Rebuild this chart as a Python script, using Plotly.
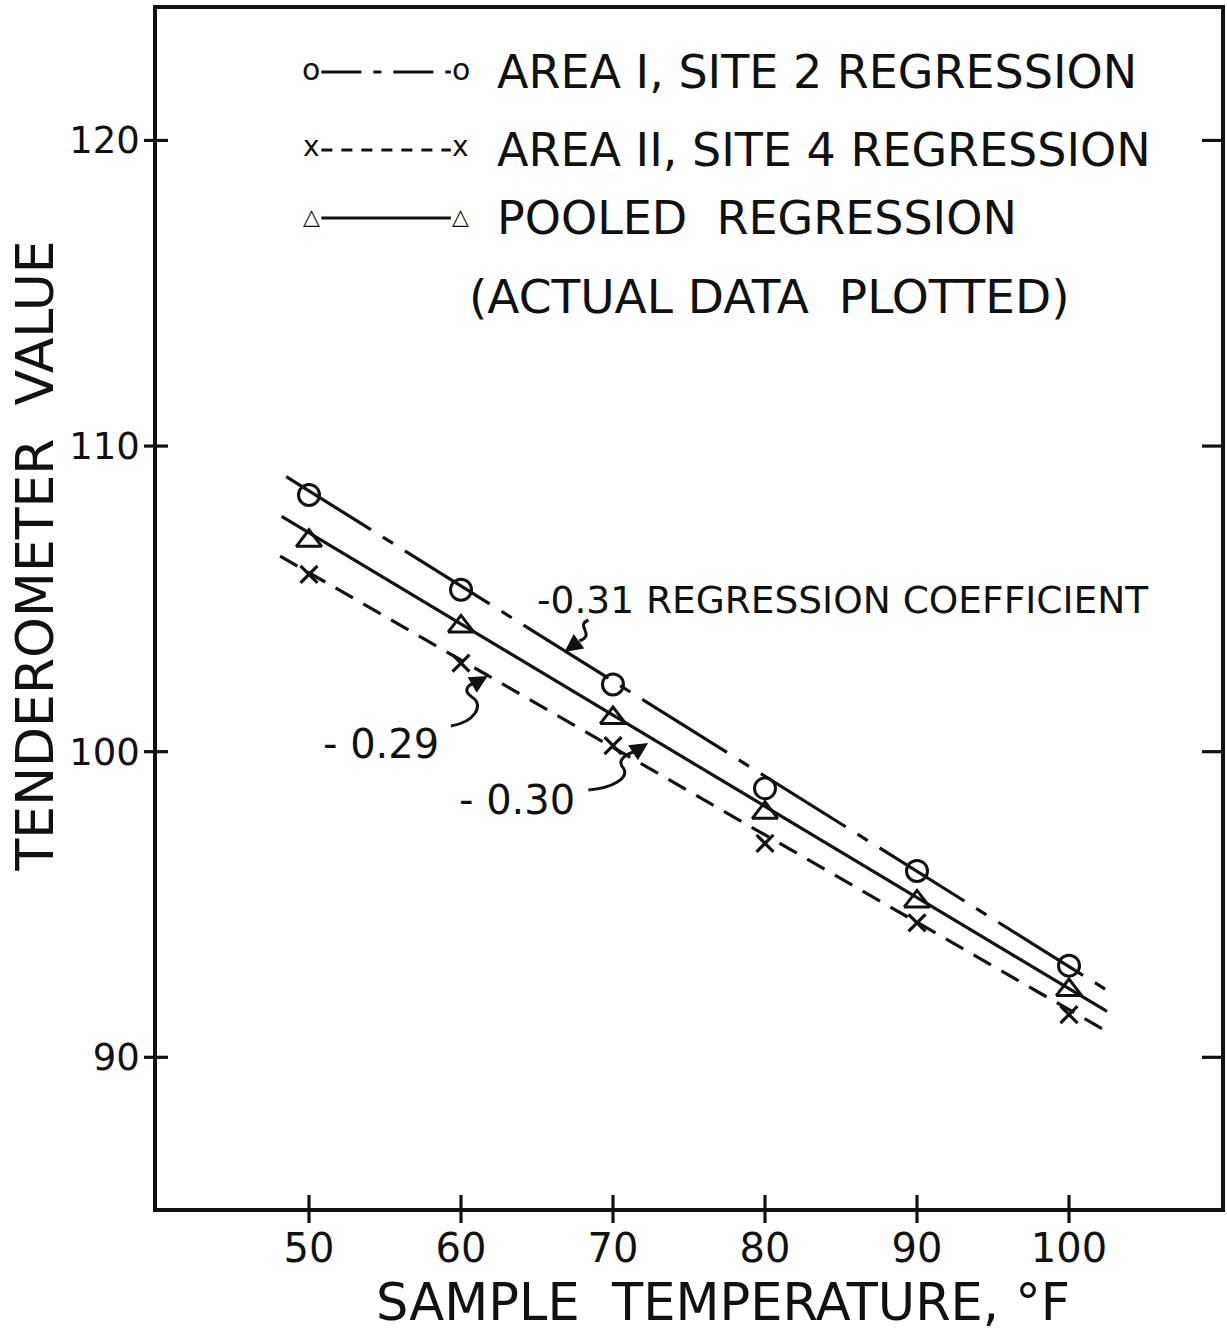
import plotly.graph_objects as go

# ---------------- data ----------------
temps = [50, 60, 70, 80, 90, 100]
area1_site2 = [108.4, 105.3, 102.2, 98.8, 96.1, 93.0]      # circles
area2_site4 = [105.8, 102.9, 100.2, 97.0, 94.4, 91.4]      # crosses
pooled = [106.9, 104.1, 101.1, 98.0, 95.1, 92.2]           # triangles

# regression lines (end points)
line1_x = [48.5, 102.8]
line1_y = [109.0, 92.1]
line2_x = [48.1, 102.3]
line2_y = [106.4, 90.9]
pooled_line_x = [48.2, 102.5]
pooled_line_y = [107.7, 91.5]

x_ticks = [50, 60, 70, 80, 90, 100]
y_ticks = [90, 100, 110, 120]

legend_labels = ["AREA I, SITE 2 REGRESSION", "AREA II, SITE 4 REGRESSION",
                 "POOLED  REGRESSION", "(ACTUAL DATA  PLOTTED)"]
coef_labels = ["-0.31 REGRESSION COEFFICIENT", "- 0.29", "- 0.30"]

x_title = "SAMPLE  TEMPERATURE, °F"
y_title = "TENDEROMETER  VALUE"

# ---------------- layout helpers ----------------
W, H = 1227, 1335
ML, MR, MT, MB = 157, 2, 9, 127
PW, PH = W - ML - MR, H - MT - MB
FONT = "DejaVu Sans"
INK = "#111111"


def px(x):
    return (x - ML) / PW


def py(y):
    return 1 - (y - MT) / PH


def path_px(points):
    out = []
    for cmd, pts in points:
        coords = " ".join(f"{px(a):.5f},{py(b):.5f}" for a, b in pts)
        out.append(f"{cmd} {coords}")
    return " ".join(out)


fig = go.Figure()

# regression lines
fig.add_trace(go.Scatter(x=line1_x, y=line1_y, mode="lines",
                         line=dict(color=INK, width=3.2, dash="100px,14px,12px,14px"),
                         showlegend=False, hoverinfo="skip"))
fig.add_trace(go.Scatter(x=line2_x, y=line2_y, mode="lines",
                         line=dict(color=INK, width=3.2, dash="20px,12px"),
                         showlegend=False, hoverinfo="skip"))
fig.add_trace(go.Scatter(x=pooled_line_x, y=pooled_line_y, mode="lines",
                         line=dict(color=INK, width=3.2),
                         showlegend=False, hoverinfo="skip"))

# data points
fig.add_trace(go.Scatter(x=temps, y=area1_site2, mode="markers",
                         marker=dict(symbol="circle-open", size=21, color=INK,
                                     line=dict(width=3, color=INK)),
                         showlegend=False))
fig.add_trace(go.Scatter(x=temps, y=pooled, mode="markers",
                         marker=dict(symbol="triangle-up-open", size=22, color=INK,
                                     line=dict(width=3, color=INK)),
                         showlegend=False))
fig.add_trace(go.Scatter(x=temps, y=area2_site4, mode="markers",
                         marker=dict(symbol="x-thin-open", size=17, color=INK,
                                     line=dict(width=3.2, color=INK)),
                         showlegend=False))

XR = [40, 110]
YR = [85.07, 124.3]

axis_common = dict(showgrid=False, zeroline=False, ticks="", linecolor=INK,
                   showline=True, linewidth=3.5, mirror=True)

fig.update_layout(
    width=W, height=H,
    margin=dict(l=ML, r=MR, t=MT, b=MB),
    paper_bgcolor="white", plot_bgcolor="white",
    font=dict(family=FONT, color=INK),
    xaxis=dict(range=XR, tickvals=x_ticks,
               tickfont=dict(size=40, family=FONT, color=INK),
               ticklabelstandoff=2, **axis_common),
    yaxis=dict(range=YR, tickvals=y_ticks,
               tickfont=dict(size=37, family=FONT, color=INK),
               ticklabelstandoff=6, **axis_common),
)

annotations = []
shapes = []

# tick marks crossing the axis lines (positions from the tick lists)
for t in x_ticks:
    shapes.append(dict(type="line", xref="x", yref="paper", x0=t, x1=t,
                       ysizemode="pixel", yanchor=0, y0=-15, y1=13,
                       line=dict(color=INK, width=3.2)))
for t in y_ticks:
    shapes.append(dict(type="line", yref="y", xref="paper", y0=t, y1=t,
                       xsizemode="pixel", xanchor=0, x0=-13, x1=11,
                       line=dict(color=INK, width=3.2)))
    shapes.append(dict(type="line", yref="y", xref="paper", y0=t, y1=t,
                       xsizemode="pixel", xanchor=1, x0=-19, x1=0,
                       line=dict(color=INK, width=3.2)))

# axis titles
annotations.append(dict(x=px(725), y=py(1302), xref="paper", yref="paper",
                        xanchor="center", yanchor="middle",
                        text=x_title, showarrow=False,
                        font=dict(size=51, family=FONT, color=INK)))
annotations.append(dict(x=px(35), y=py(556), xref="paper", yref="paper",
                        xanchor="center", yanchor="middle",
                        text=y_title, showarrow=False, textangle=-90,
                        font=dict(size=52, family=FONT, color=INK)))

# ---------------- custom legend ----------------
leg_rows_y = [72, 150, 218]
leg_x0, leg_x1 = 312, 462
leg_dashes = ["40px,12px,8px,12px", "11px,9px", "solid"]
leg_syms = ["o", "x", "△"]
leg_sym_sizes = [30, 28, 22]
leg_sym_dy = [-3, -3, -2]
for i, yy in enumerate(leg_rows_y):
    shapes.append(dict(type="line", xref="paper", yref="paper",
                       x0=px(leg_x0 + 10), x1=px(leg_x1 - 10),
                       y0=py(yy), y1=py(yy),
                       line=dict(color=INK, width=3, dash=leg_dashes[i])))
    for xx in (leg_x0, leg_x1):
        annotations.append(dict(x=px(xx), y=py(yy + leg_sym_dy[i]), xref="paper", yref="paper",
                                xanchor="center", yanchor="middle",
                                text=leg_syms[i], showarrow=False,
                                font=dict(size=leg_sym_sizes[i], family=FONT, color=INK)))
    annotations.append(dict(x=px(496), y=py(yy), xref="paper", yref="paper",
                            xanchor="left", yanchor="middle",
                            text=legend_labels[i], showarrow=False,
                            font=dict(size=46, family=FONT, color=INK)))
annotations.append(dict(x=px(468), y=py(296), xref="paper", yref="paper",
                        xanchor="left", yanchor="middle", text=legend_labels[3],
                        showarrow=False, font=dict(size=47, family=FONT, color=INK)))

# ---------------- coefficient call-outs ----------------
coef_pos = [(536, 600, 37.5), (322, 744, 40), (458, 800, 40)]
for lab, (cx, cy, fs) in zip(coef_labels, coef_pos):
    annotations.append(dict(x=px(cx), y=py(cy), xref="paper", yref="paper",
                            xanchor="left", yanchor="middle", text=lab, showarrow=False,
                            font=dict(size=fs, family=FONT, color=INK)))

squiggles = [
    ([("M", [(590, 620)]), ("C", [(576, 626), (598, 634), (581, 641)])], (581, 641), (566, 652)),
    ([("M", [(452, 726)]), ("C", [(476, 722), (486, 705), (473, 697)]),
      ("C", [(463, 690), (470, 684), (477, 683)])], (477, 683), (489, 676)),
    ([("M", [(590, 790)]), ("C", [(614, 788), (632, 778), (625, 768)]),
      ("C", [(618, 760), (628, 754), (636, 752)])], (636, 752), (650, 743)),
]
for pts, tail, tip in squiggles:
    shapes.append(dict(type="path", xref="paper", yref="paper", path=path_px(pts),
                       line=dict(color=INK, width=3)))
    annotations.append(dict(x=px(tip[0]), y=py(tip[1]), xref="paper", yref="paper",
                            ax=tail[0] - tip[0], ay=tail[1] - tip[1],
                            text="", showarrow=True, arrowhead=2, arrowsize=1.2,
                            arrowwidth=3, arrowcolor=INK))

fig.update_layout(annotations=annotations, shapes=shapes)

fig.write_html("out.html", config={"displayModeBar": False},
               post_script="document.body.style.margin='0';document.body.style.overflow='hidden';")
